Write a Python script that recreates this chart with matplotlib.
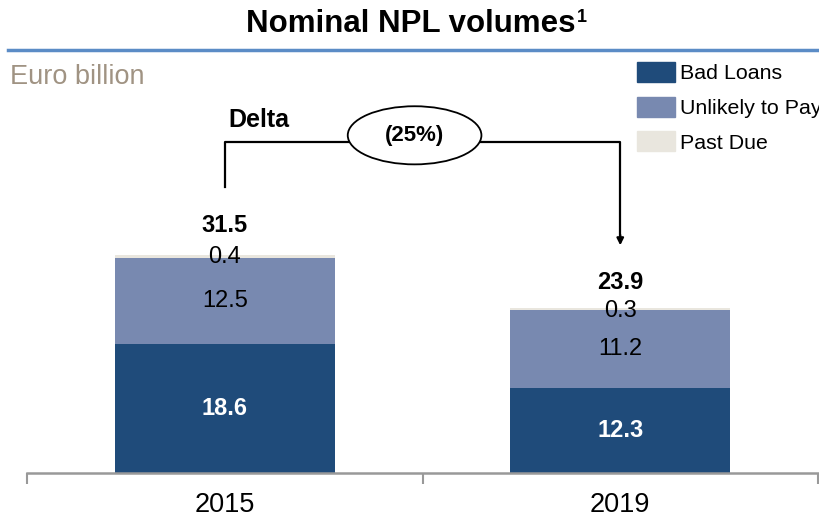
import matplotlib
matplotlib.use("Agg")
import matplotlib.pyplot as plt
from matplotlib.patches import Ellipse, Patch
from matplotlib.lines import Line2D

plt.rcParams['font.family'] = ['Liberation Sans', 'DejaVu Sans']

years = ["2015", "2019"]
bad_loans = [18.6, 12.3]
unlikely_to_pay = [12.5, 11.2]
past_due = [0.4, 0.3]
totals = [31.5, 23.9]
delta_label = "(25%)"

c_bad = "#1F4B7A"
c_utp = "#7889B0"
c_pd = "#E9E6DE"

fig = plt.figure(figsize=(8.19, 5.2), dpi=100)
ax = fig.add_axes([27/819, 47/520, 791/819, 473/520])
x = list(range(len(years)))
w = 0.556

ax.bar(x, bad_loans, width=w, color=c_bad, label="Bad Loans")
ax.bar(x, unlikely_to_pay, width=w, bottom=bad_loans, color=c_utp, label="Unlikely to Pay")
bottoms = [b + u for b, u in zip(bad_loans, unlikely_to_pay)]
ax.bar(x, past_due, width=w, bottom=bottoms, color=c_pd, label="Past Due")

for i in x:
    ax.text(i, bad_loans[i] / 2, f"{bad_loans[i]:.1f}", ha="center", va="center",
            color="white", fontsize=17, fontweight="bold")
    ax.text(i, bad_loans[i] + unlikely_to_pay[i] / 2, f"{unlikely_to_pay[i]:.1f}",
            ha="center", va="center", color="black", fontsize=17)
    top = bottoms[i] + past_due[i]
    ax.text(i, top - 0.35, f"{past_due[i]:.1f}", ha="center", va="center",
            color="black", fontsize=17)
    ax.text(i, totals[i] + (4.2 if i == 0 else 3.6), f"{totals[i]:.1f}", ha="center",
            va="center", color="black", fontsize=17, fontweight="bold")

ax.set_xlim(-0.5, 1.5)
ax.set_ylim(0, 473 / 6.92)
for s in ["top", "right", "left"]:
    ax.spines[s].set_visible(False)
ax.spines["bottom"].set_color("#999999")
ax.spines["bottom"].set_linewidth(1.8)
ax.set_yticks([])
ax.set_xticks(x)
ax.set_xticklabels(years, fontsize=19.5)
ax.tick_params(axis="x", which="major", length=0, pad=14)
ax.set_xticks([-0.5, 0.5, 1.5], minor=True)
ax.tick_params(axis="x", which="minor", length=8, width=1.5, color="#999999")

# Delta bracket
y0 = totals[0] + 9.8
yh = 47.8
ytip = totals[1] + 9.0
ecx, ecy, ew, eh = 0.48, 48.8, 0.338, 8.4
lkw = dict(color="black", lw=1.6, clip_on=False)
ax.plot([0, 0, ecx - ew / 2], [y0, yh, yh], **lkw)
ax.plot([ecx + ew / 2, 1, 1], [yh, yh, ytip + 0.8], **lkw)
ax.annotate("", xy=(1, ytip), xytext=(1, ytip + 1.5),
            arrowprops=dict(arrowstyle="-|>", color="black", lw=1.6,
                            mutation_scale=10, shrinkA=0, shrinkB=0))
ax.add_patch(Ellipse((ecx, ecy), ew, eh, facecolor="white", edgecolor="black", lw=1.3))
ax.text(ecx, ecy, delta_label, ha="center", va="center", fontsize=16, fontweight="bold")
ax.text(0.01, 51.0, "Delta", ha="left", va="center", fontsize=18, fontweight="bold")

# Title, rule, unit
t = fig.text(0.502, 0.954, "Nominal NPL volumes", ha="center", va="center",
             fontsize=22.5, fontweight="bold")
fig.canvas.draw()
ax.annotate("1", xy=(1, 1), xycoords=t, xytext=(1, 0), textcoords="offset points",
            ha="left", va="top", fontsize=13, fontweight="bold", annotation_clip=False)
fig.add_artist(Line2D([8/819, 1], [1 - 50/520, 1 - 50/520], color="#5B8CC6", lw=2.5))
fig.text(10/819, 1 - 77/520, "Euro billion", ha="left", va="center",
         fontsize=19.5, color="#A09383")

handles = [Patch(color=c_bad), Patch(color=c_utp), Patch(color=c_pd)]
labels = ["Bad Loans", "Unlikely to Pay", "Past Due"]
fig.legend(handles, labels, loc="upper left", bbox_to_anchor=(637/819, 1 - 62/520),
           frameon=False, fontsize=15.4, handlelength=1.78, handleheight=1.07,
           handletextpad=0.25, labelspacing=0.62, borderpad=0, borderaxespad=0)

fig.savefig("out.png", dpi=100)
